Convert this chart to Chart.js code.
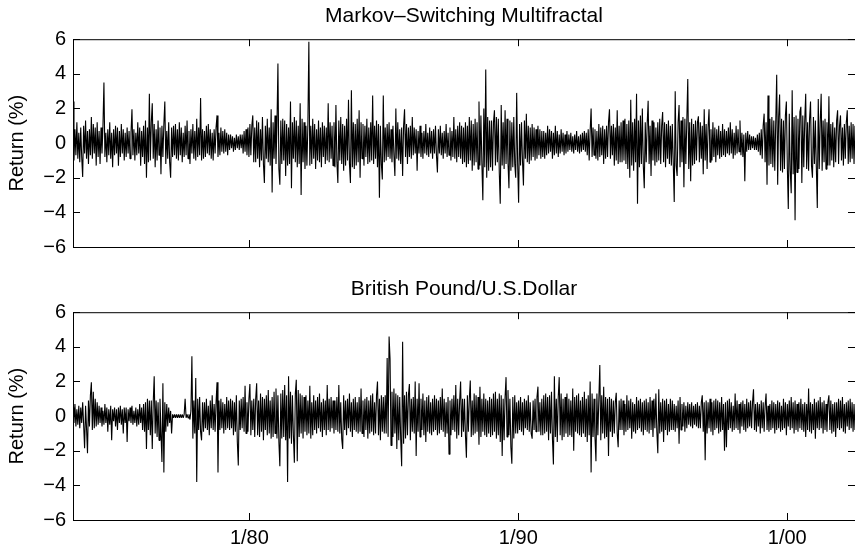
<!DOCTYPE html>
<html>
<head>
<meta charset="utf-8">
<script src="https://cdn.jsdelivr.net/npm/chart.js@4.4.1/dist/chart.umd.min.js"></script>
<style>
  html, body { margin: 0; padding: 0; background: #fff; }
  #wrap { position: relative; width: 855px; height: 548px; overflow: hidden; }
  canvas { position: absolute; left: 0; }
  #top { top: 0; }
  #bottom { top: 270px; }
</style>
</head>
<body>
<div id="wrap">
  <canvas id="top" width="855" height="270"></canvas>
  <canvas id="bottom" width="855" height="278"></canvas>
</div>
<script>
const tickYears = [1980, 1990, 2000];
const tickLabels = ['1/80', '1/90', '1/00'];
const firstYear = 1973.44;
const lastYear = 2002.52;

// simulated MSM returns, one line per ~year of samples
const msmReturns = [
  2.4,-1.0,0.8,-0.7,1.2,-0.9,0.6,-1.1,0.9,-0.8,-1.95,1.0,-0.6,1.3,-0.9,0.7,-1.2,0.8,-0.7,1.5,-0.9,1.1,-0.6,0.9,-1.3,1.2,-0.8,
  0.7,-1.2,0.9,-0.6,1.0,3.5,-0.8,0.6,-1.1,0.8,-0.7,1.2,-0.9,0.6,-1.4,0.8,-0.7,1.0,-0.6,0.9,-1.3,0.7,-0.8,1.1,-0.6,0.8,-1.0,
  0.6,-0.8,0.9,-0.6,0.7,-0.9,0.6,1.95,-0.7,0.8,-1.0,0.6,-0.7,1.2,-0.6,0.9,-1.3,0.7,-0.8,1.0,-1.2,1.3,-2.0,0.9,-1.1,2.85,-1.0,
  1.2,2.3,-0.9,1.1,-1.4,0.8,-1.0,1.3,-0.7,0.9,-1.8,1.0,-0.8,1.1,2.4,-1.2,0.7,-0.9,1.2,-1.1,-2.0,0.9,-0.8,1.0,-0.7,1.1,-0.9,
  0.8,-1.0,1.2,-0.7,0.9,-1.1,0.6,-0.8,1.0,-0.7,1.3,-0.9,0.7,-1.2,0.8,-0.6,1.1,-0.9,0.7,-1.0,1.4,-0.8,0.9,-0.7,2.6,-1.0,0.8,
  -0.9,0.7,-0.8,1.0,-0.6,1.1,-0.7,0.8,-0.9,0.6,-1.0,0.8,-0.6,0.9,1.6,-0.8,0.6,-0.7,0.9,-0.5,0.7,-0.6,0.8,-0.5,0.6,-0.7,0.5,
  -0.4,0.5,-0.3,0.4,-0.5,0.3,-0.4,0.5,-0.3,0.4,-0.4,0.5,-0.3,0.5,-0.6,0.7,-0.5,0.8,-0.7,0.9,-0.8,1.1,-0.7,1.0,1.6,-1.1,0.9,
  -1.1,1.3,-0.9,1.2,-1.4,0.8,-1.0,1.5,-1.2,-2.3,1.0,-0.9,1.4,-1.1,0.9,-1.3,1.95,-2.85,1.2,-0.9,1.6,-1.2,1.0,4.6,-1.5,-2.4,1.3,
  -1.2,1.4,-1.0,1.3,-1.9,1.1,-1.3,0.9,-1.2,2.4,-2.6,1.2,-0.9,1.5,-1.1,1.3,-1.4,1.0,-1.2,2.3,-3.0,1.4,-1.1,1.2,-1.5,1.0,-1.3,
  1.1,5.85,-1.3,1.0,-1.2,1.4,-0.9,1.1,-1.5,0.8,-1.0,1.3,-1.1,0.9,-1.4,1.2,-0.8,1.0,-1.2,0.9,-1.0,2.3,-1.1,1.2,-0.9,1.0,-1.3,
  1.2,-1.4,2.2,-1.1,-2.3,1.3,-1.0,1.5,-1.2,1.1,-1.6,1.0,-1.3,1.4,-1.0,2.5,-1.2,-2.3,3.05,-1.4,1.2,-1.5,1.1,-1.3,1.4,-1.1,1.9,
  -2.0,1.2,-0.9,1.1,-1.3,1.0,-0.8,1.4,-1.2,0.9,-1.1,1.2,-1.0,2.75,-1.2,1.0,-0.9,1.3,-1.4,1.1,-3.15,1.0,-1.2,-2.1,2.75,-1.1,0.9,
  -1.0,1.1,-0.8,1.2,-0.9,0.8,-1.1,1.0,-0.7,-1.9,2.0,-0.9,1.2,-1.0,0.8,-1.2,0.9,-1.9,1.0,1.95,-0.8,1.1,-1.2,0.9,-0.8,1.0,-0.9,
  1.5,-0.7,0.9,-0.6,0.8,-1.6,0.7,-0.6,1.0,-0.8,0.6,-0.9,0.7,-0.6,1.1,-0.7,0.6,-0.8,0.9,-0.6,0.7,-0.9,0.8,-0.6,1.0,-0.7,-1.7,
  0.8,-0.6,1.0,-0.7,0.6,-0.9,0.7,-0.6,1.1,-0.8,0.6,-0.7,0.9,-1.0,0.7,-0.8,1.5,-0.9,0.8,-1.1,1.0,-0.8,1.2,-0.9,1.0,-1.2,0.9,
  -1.1,1.2,-1.4,1.0,-1.2,1.5,-1.0,1.3,-1.6,1.1,-1.3,1.4,-1.1,1.2,-1.5,2.4,-1.3,1.6,-1.2,-3.3,2.0,-1.4,4.25,-2.0,1.5,-1.6,1.3,
  -1.4,1.3,-1.6,1.2,1.9,-1.3,1.5,-1.1,1.4,-1.7,-3.5,2.2,-1.3,1.2,-1.5,1.9,-1.2,1.4,-1.1,-2.6,1.3,-1.6,1.2,-1.4,1.5,-1.2,-2.0,
  2.9,-1.2,-3.45,1.1,-1.3,1.2,-1.0,-2.45,1.3,-0.9,1.7,-1.1,1.0,-1.2,0.9,-1.0,1.1,-0.8,0.9,-1.0,0.8,-0.9,1.0,-0.7,0.8,-0.9,0.7,
  -0.8,0.7,-0.9,0.6,-0.7,1.0,-0.6,0.8,-0.5,0.7,-0.9,0.6,-0.7,1.0,-0.6,0.7,-0.8,0.5,-0.6,0.8,-0.5,0.6,-0.7,0.5,-0.6,0.7,-0.5,
  0.5,-0.4,0.6,-0.5,0.4,-0.6,0.5,-0.4,0.7,-0.5,0.4,-0.6,0.5,-0.5,0.6,-0.4,0.7,-0.5,0.6,-0.7,0.8,-1.0,0.7,2.0,-0.8,0.9,-0.7,
  0.8,-0.9,0.7,-1.0,1.1,-0.8,0.9,-0.7,1.0,-1.2,0.8,-0.9,1.0,-0.8,1.2,1.95,-0.9,1.0,-0.7,1.1,-1.3,0.9,-1.0,1.9,-1.2,1.0,-1.1,
  1.2,-1.1,1.3,-1.0,1.4,-1.2,1.1,-1.5,1.3,-2.0,2.5,-1.3,1.2,-1.6,1.4,-1.1,2.85,-3.5,1.3,-1.4,1.6,-1.2,2.0,-1.3,-2.6,1.2,-1.1,
  1.1,2.45,-1.2,1.0,-1.9,1.3,-1.0,1.2,-1.3,0.9,-1.1,1.2,-1.0,1.4,-1.2,1.0,1.8,-1.1,1.2,-1.4,1.1,-0.9,1.3,-1.2,1.0,-1.3,1.1,
  -1.2,-3.4,3.0,-1.3,-1.9,1.2,2.2,-1.4,1.3,-1.1,1.5,-2.55,1.4,-1.2,1.3,3.7,-1.5,1.2,-2.2,1.4,-1.3,1.1,-1.2,1.3,-1.0,1.2,1.55,
  -1.1,1.2,-0.9,1.0,-1.8,1.95,-1.0,1.1,-1.5,0.9,1.95,-1.1,0.8,-1.0,1.2,-0.8,0.9,-1.1,0.8,-0.7,1.0,-0.9,0.7,-0.8,1.1,-0.7,0.8,
  -0.8,0.7,-0.6,0.9,-0.7,1.2,-0.6,0.8,-0.9,0.6,-0.7,1.0,-0.6,0.8,-0.5,1.3,-0.7,0.6,-0.8,0.5,-2.2,0.6,-0.5,0.7,-0.4,0.5,-0.4,
  0.4,-0.3,0.4,-0.4,0.3,-0.4,0.5,-0.5,0.6,-0.7,0.8,-0.9,1.0,1.7,-1.1,1.2,-2.4,2.75,-1.3,1.4,-1.2,1.5,-1.4,1.3,-1.6,1.2,3.95,
  -2.4,1.5,2.8,-1.6,1.4,-1.7,1.3,-1.5,1.6,2.4,-1.4,-3.8,1.7,-1.6,-2.9,3.05,-1.8,1.5,-4.45,1.6,-1.7,1.4,-1.5,1.8,2.1,-2.3,1.6,
  -1.4,1.3,2.85,-1.5,1.2,-1.6,1.4,2.4,-1.3,-2.0,1.5,-1.2,1.3,-1.4,-3.75,2.55,-1.5,1.2,2.85,-1.6,1.3,-1.1,1.4,-1.5,1.2,-1.3,2.7,
  -1.3,1.1,-1.0,1.2,-1.4,0.9,-1.1,1.3,1.9,-1.2,1.0,1.6,-1.0,0.9,-1.3,1.1,-0.9,1.2,1.9,-1.2,1.0,-1.1,1.2,-0.9,1.1,-1.2,1.0
];

// daily GBP/USD returns, same sampling
const gbpReturns = [
  0.5,-0.4,0.7,-0.6,0.4,-0.5,0.6,-0.7,0.5,-0.4,0.8,-0.5,-1.85,0.6,-0.7,-2.15,0.9,-0.6,1.2,1.95,-0.8,1.4,-0.7,1.0,-0.6,0.8,-0.5,
  0.6,-0.4,0.5,-0.6,0.3,-0.5,0.7,-0.4,0.5,-0.9,0.4,-0.5,0.6,-1.4,0.4,-0.3,0.5,-0.6,0.4,-0.8,0.5,-0.4,0.6,-0.5,0.4,-1.0,0.5,
  -0.4,0.5,-1.5,0.4,-0.3,0.5,-0.4,0.6,-0.5,0.3,-0.4,0.5,-0.6,0.4,-0.5,0.7,-0.4,0.5,-0.8,0.7,-0.9,0.8,-1.9,1.0,-0.8,0.9,-1.1,
  0.9,-1.9,0.8,2.3,-1.0,0.9,-1.2,0.8,-1.4,1.0,-0.9,-2.65,1.9,-3.25,0.8,-0.9,0.7,-0.6,0.5,-0.4,0.3,-1.0,0.1,-0.1,0.1,-0.1,0.1,
  -0.1,0.1,-0.1,0.1,-0.1,0.1,-0.1,0.1,1.0,-0.1,0.1,-0.1,0.1,-0.2,0.3,3.45,-1.3,0.9,-1.0,2.2,-3.8,1.0,-0.8,1.1,-0.9,-1.4,0.8,
  -0.9,0.8,-0.7,1.0,-0.8,0.6,-1.1,0.9,-0.7,1.2,-0.8,0.7,-0.9,0.8,1.95,-3.25,0.9,-0.8,1.0,-0.7,0.8,-1.0,0.7,-0.8,1.1,-0.7,0.9,
  -0.8,1.0,-0.7,0.9,-1.1,0.8,-0.9,1.2,-1.5,-2.85,0.9,-0.8,1.0,-0.7,1.1,-0.9,1.75,-1.0,0.8,-0.9,1.0,1.85,-1.1,0.9,-0.8,1.0,-1.2,
  1.0,1.9,-1.1,0.9,-1.2,1.3,-0.9,1.1,-1.4,1.0,-0.8,1.2,-1.1,1.5,-1.0,0.9,-1.3,1.1,-1.2,1.4,-1.0,1.6,-1.3,1.2,-1.5,-2.9,1.3,
  -1.3,1.5,-1.2,1.8,-1.4,1.2,-3.8,2.3,-1.3,1.4,-1.6,1.2,-1.1,-2.7,1.3,2.1,-2.6,1.5,-1.2,1.3,-1.0,1.2,-1.3,1.1,-0.9,1.2,-1.1,
  0.9,-1.0,1.75,-1.3,0.8,-1.1,1.2,-0.8,0.9,-1.0,1.1,-0.7,1.3,-0.9,0.8,-1.2,1.0,-0.8,0.9,-1.1,1.8,-0.8,1.0,-0.9,1.1,-0.7,0.9,
  -1.0,0.9,-0.8,1.1,-0.9,1.8,-1.0,0.8,-1.3,-1.9,1.2,-0.8,0.9,-1.1,1.0,-0.7,1.3,-0.9,0.8,-1.2,1.0,-0.8,1.1,-0.9,0.8,-1.0,1.1,
  -0.9,1.6,-1.0,0.9,-1.2,1.0,-0.8,1.1,-1.3,0.9,-1.0,1.2,-0.9,1.3,-1.1,0.8,-1.0,1.2,2.0,-1.1,1.0,-1.4,1.2,-0.9,1.1,-1.0,1.2,
  -1.0,3.35,-1.2,4.6,3.3,-1.7,1.4,-1.2,1.6,-1.0,1.3,-1.9,1.2,-1.4,1.1,-1.3,-2.9,4.3,-1.6,1.2,-1.3,1.4,-1.1,1.2,1.85,-1.4,1.0,
  -0.9,1.1,-1.0,2.0,-2.3,1.0,-0.9,1.9,-1.2,1.0,-0.8,1.3,-1.1,0.9,-1.5,1.1,-0.9,1.2,-1.0,0.8,-1.1,1.0,-0.9,1.2,-0.8,1.0,-1.1,
  0.9,-1.0,1.1,-0.8,1.6,-0.9,1.0,-1.2,0.8,-1.0,1.1,-2.2,0.9,-1.1,1.0,-0.8,1.2,-0.9,1.8,-1.3,1.0,-1.1,0.9,2.0,-1.2,1.0,-0.9,
  1.0,-1.1,-2.4,1.2,-0.9,1.0,2.05,-1.2,0.9,-1.1,1.3,-1.0,1.2,-0.9,1.1,-1.65,1.7,-1.2,1.0,-0.9,1.3,-1.1,1.0,-1.2,0.9,-1.0,1.1,
  -1.2,1.0,-1.1,1.3,-0.9,1.4,-1.3,1.0,-1.1,1.3,-1.5,1.2,-2.3,1.0,-1.4,1.1,2.25,-1.2,1.5,-1.1,1.0,-1.8,-2.75,1.1,-1.3,1.2,-1.0,
  0.8,-1.0,0.9,-0.8,1.1,-0.9,0.8,-1.1,1.0,-0.7,0.9,-0.8,1.2,-0.9,0.8,-1.0,-1.3,0.9,-0.8,1.0,-0.9,1.1,1.7,-0.9,0.8,-1.1,1.0,
  -1.1,1.2,-1.0,1.3,-0.9,1.1,-1.4,1.2,-1.0,1.4,-1.3,-2.8,2.3,-1.2,1.0,-1.5,1.1,2.25,-1.1,1.3,-1.4,1.0,-1.2,1.1,-1.0,1.3,-1.2,
  1.0,-1.1,0.9,-1.2,1.6,-2.0,1.1,-0.9,1.2,-1.0,1.3,-1.1,0.9,-1.2,1.1,-1.0,1.4,-1.2,1.0,-1.5,1.2,-1.1,2.0,-3.25,1.3,-1.2,1.0,
  -1.2,-2.6,1.3,-1.1,1.0,2.95,-1.4,1.2,-1.0,1.7,-1.3,1.1,-1.2,1.0,-2.3,1.1,-0.9,1.0,-1.2,0.9,-1.0,0.8,1.35,-1.0,-1.8,0.9,-0.8,
  1.0,-0.8,0.9,-1.1,0.7,-0.9,1.2,-0.8,0.9,-0.7,1.0,-1.3,0.8,-0.9,0.7,-1.0,1.1,-0.8,0.9,-0.7,1.0,-0.9,0.8,-1.1,0.9,-0.8,1.0,
  -0.9,0.8,-1.0,1.1,-0.8,0.9,-1.2,1.0,-0.7,1.3,-0.9,-2.15,1.55,-1.0,0.8,-0.9,1.0,-1.5,0.9,-0.8,1.0,-1.1,0.7,-0.9,1.0,-0.8,0.9,
  -0.8,0.7,-0.9,0.6,-0.7,0.9,-1.6,1.1,-0.8,0.7,-0.6,0.8,-0.9,0.6,-0.7,0.8,-0.5,0.7,-0.6,0.8,-0.7,0.6,-0.5,0.7,-0.6,0.8,-0.7,
  0.6,-0.7,0.8,1.2,-0.9,0.8,-2.55,0.9,-1.0,0.8,-0.7,1.0,-0.9,0.8,-1.1,0.9,-0.8,1.0,-0.7,0.9,-1.0,0.8,-0.9,1.1,-0.8,0.7,-2.0,
  0.8,-1.8,0.9,-0.8,1.0,-0.7,0.8,-0.9,0.6,-0.8,1.3,-0.7,0.9,-0.8,0.7,-1.0,0.8,-0.6,0.9,-0.8,0.7,-0.9,1.0,-0.7,0.8,-0.6,0.9,
  -0.7,0.8,1.55,-0.8,0.7,-0.9,0.8,-0.6,0.7,-1.0,0.9,-0.7,0.8,-0.9,0.6,1.3,-0.8,0.6,-0.9,0.7,-0.8,0.9,-0.7,0.8,-1.0,0.7,-0.8,
  0.9,-0.7,0.8,-0.9,0.6,-0.8,1.0,-0.7,0.8,-1.1,0.7,-0.6,0.9,-0.8,1.1,-0.7,0.8,-1.0,0.9,-0.8,0.7,-0.9,0.8,-0.7,1.0,-0.8,0.7,
  -0.9,0.8,-1.2,0.7,-0.8,1.6,-0.9,0.8,-1.0,0.7,-0.8,1.0,-1.3,0.8,-0.7,0.9,-0.8,1.1,-0.7,0.8,-1.0,0.9,-0.8,0.7,-0.9,0.8,1.2,
  -0.8,0.9,-1.0,0.7,-0.9,0.8,-1.2,0.8,-0.7,1.0,-0.8,0.9,-0.7,1.1,-0.9,0.7,-1.0,0.8,-0.6,0.9,-0.8,1.0,-0.7,0.8,-0.9,0.7,-0.8
];

const fontFamily = '"Liberation Sans", Arial, Helvetica, sans-serif';

function toPoints(values) {
  const step = (lastYear - firstYear) / (values.length - 1);
  return values.map((v, i) => ({ x: firstYear + i * step, y: v }));
}

// box round the plot with ticks pointing inwards on all four sides
const boxTicks = {
  id: 'boxTicks',
  afterDatasetsDraw(chart) {
    const { ctx, chartArea: a, scales: { x, y } } = chart;
    const len = 7;
    ctx.save();
    ctx.strokeStyle = '#000';
    ctx.lineWidth = 1;
    ctx.beginPath();
    for (const t of x.ticks) {
      const px = Math.round(x.getPixelForValue(t.value)) + 0.5;
      ctx.moveTo(px, a.bottom); ctx.lineTo(px, a.bottom - len);
      ctx.moveTo(px, a.top); ctx.lineTo(px, a.top + len);
    }
    for (const t of y.ticks) {
      const py = Math.round(y.getPixelForValue(t.value)) + 0.5;
      ctx.moveTo(a.left, py); ctx.lineTo(a.left + len, py);
      ctx.moveTo(a.right, py); ctx.lineTo(a.right - len, py);
    }
    ctx.stroke();
    ctx.strokeRect(a.left + 0.5, a.top + 0.5, a.right - a.left, a.bottom - a.top);
    ctx.restore();
  }
};

function makePanel(id, title, values, showDates, titlePad, xHeight) {
  return new Chart(document.getElementById(id), {
    type: 'line',
    data: {
      datasets: [{
        data: toPoints(values),
        borderColor: '#000',
        borderWidth: 1.1,
        borderJoinStyle: 'bevel',
        pointRadius: 0,
        tension: 0,
        fill: false
      }]
    },
    options: {
      responsive: false,
      animation: false,
      devicePixelRatio: 1,
      layout: { padding: { left: 0, right: -3, top: 0, bottom: 0 } },
      plugins: {
        legend: { display: false },
        tooltip: { enabled: false },
        title: {
          display: true,
          fullSize: false,
          text: title,
          color: '#000',
          font: { family: fontFamily, size: 21, weight: 'normal' },
          padding: titlePad
        }
      },
      scales: {
        x: {
          type: 'linear',
          min: firstYear,
          max: lastYear,
          afterBuildTicks: s => { s.ticks = tickYears.map(v => ({ value: v })); },
          afterFit: s => { s.height = xHeight; },
          grid: { display: false, drawTicks: false },
          border: { display: false },
          ticks: {
            display: showDates,
            color: '#000',
            font: { family: fontFamily, size: 20 },
            padding: 6,
            maxRotation: 0,
            autoSkip: false,
            callback: v => tickLabels[tickYears.indexOf(v)]
          }
        },
        y: {
          min: -6,
          max: 6,
          afterFit: s => { s.width = 73; },
          grid: { display: false, drawTicks: false },
          border: { display: false },
          ticks: {
            stepSize: 2,
            color: '#000',
            font: { family: fontFamily, size: 20 },
            padding: 7,
            callback: v => v < 0 ? '\u2212' + (-v) : String(v)
          },
          title: {
            display: true,
            text: 'Return (%)',
            color: '#000',
            font: { family: fontFamily, size: 20 },
            padding: { top: 5, bottom: 0 }
          }
        }
      }
    },
    plugins: [boxTicks]
  });
}

makePanel('top', 'Markov\u2013Switching Multifractal', msmReturns, false, { top: 4, bottom: 10 }, 23);
makePanel('bottom', 'British Pound/U.S.Dollar', gbpReturns, true, { top: 7, bottom: 10 }, 28);
</script>
</body>
</html>
